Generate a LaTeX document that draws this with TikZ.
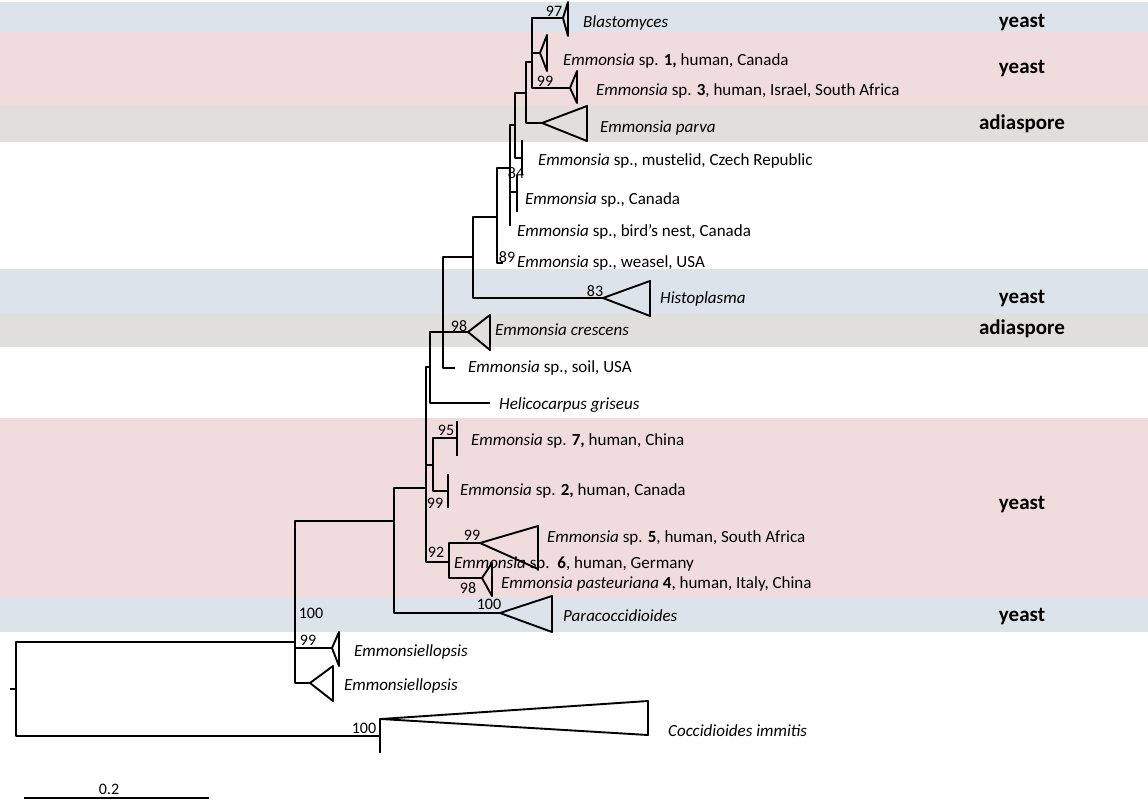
\documentclass[tikz,border=0pt]{standalone}
\usepackage{fontspec}
\setmainfont{Carlito}
\definecolor{bandblue}{RGB}{220,227,234}
\definecolor{bandpink}{RGB}{240,220,220}
\definecolor{bandgrey}{RGB}{224,223,219}
\newcommand\cladetri[4]{\draw[br] (#1) -- (#2,#3) -- (#2,#4) -- cycle;}
\newcommand\leafbar[3]{\draw[br] (#1,#2) -- (#1,#3);}
\begin{document}
\begin{tikzpicture}[x=1pt,y=-1pt,
  br/.style={line width=1.9pt, line join=round},
  lab/.style={anchor=base west, inner sep=0pt, font=\fontsize{17}{20}\selectfont},
  sup/.style={anchor=center, inner sep=0pt, font=\fontsize{16}{19}\selectfont},
  habit/.style={anchor=base, inner sep=0pt, font=\fontsize{21}{25}\selectfont\bfseries}]
\useasboundingbox (0,0) rectangle (1148,800);
% bands
\fill[bandblue] (0,2) rectangle (1148,32);
\fill[bandpink] (0,32) rectangle (1148,106);
\fill[bandgrey] (0,106) rectangle (1148,142);
\fill[bandblue] (0,269) rectangle (1148,314);
\fill[bandgrey] (0,314) rectangle (1148,347);
\fill[bandpink] (0,418) rectangle (1148,598);
\fill[bandblue] (0,598) rectangle (1148,632);
% internal nodes
\coordinate (stub) at (10,689);
\coordinate (R) at (16,689);
\coordinate (N295) at (295,642);
\coordinate (N380) at (380,736);
\coordinate (N394) at (394,521);
\coordinate (N425) at (426,488);
\coordinate (N430) at (430,367);
\coordinate (N443) at (443,332);
\coordinate (N473) at (473,257);
\coordinate (N497) at (497,217);
\coordinate (N510) at (510,168);
\coordinate (N515) at (515,125);
\coordinate (N526) at (526,93);
\coordinate (N532) at (532,62);
\coordinate (N433) at (433,465);
\coordinate (N449) at (449,562);
% leaves / clade apexes
\coordinate (Blast) at (563,18);
\coordinate (Sp1) at (540,53);
\coordinate (Sp3) at (570,88);
\coordinate (Parva) at (542,123);
\coordinate (MustBar) at (522,158);
\coordinate (CanBar) at (517,192);
\coordinate (Bird) at (510,226);
\coordinate (Weasel) at (503,263);
\coordinate (Histo) at (603,298);
\coordinate (Cres) at (468,332);
\coordinate (Soil) at (455,368);
\coordinate (Heli) at (490,403);
\coordinate (Sp7Bar) at (457,438);
\coordinate (Sp2Bar) at (448,491);
\coordinate (Sp5) at (480,543);
\coordinate (Past) at (482,578);
\coordinate (Para) at (500,613);
\coordinate (Ell1) at (332,648);
\coordinate (Ell2) at (310,683);
\coordinate (Cocc) at (381,719);
\coordinate (CoccZ) at (380,753);
% branches
\draw[br] (stub) -- (R);
\draw[br] (R) |- (N295);
\draw[br] (R) |- (N380);
\draw[br] (N295) |- (N394);
\draw[br] (N295) |- (Ell1);
\draw[br] (N295) |- (Ell2);
\draw[br] (N394) |- (N425);
\draw[br] (N394) |- (Para);
\draw[br] (N425) |- (N430);
\draw[br] (N425) |- (N433);
\draw[br] (N425) |- (N449);
\draw[br] (N430) |- (N443);
\draw[br] (N430) |- (Heli);
\draw[br] (N443) |- (N473);
\draw[br] (N443) |- (Cres);
\draw[br] (N443) |- (Soil);
\draw[br] (N473) |- (N497);
\draw[br] (N473) |- (Histo);
\draw[br] (N497) |- (N510);
\draw[br] (N497) |- (Weasel);
\draw[br] (N510) |- (N515);
\draw[br] (N510) |- (CanBar);
\draw[br] (N510) -- (Bird);
\draw[br] (N515) |- (N526);
\draw[br] (N515) |- (MustBar);
\draw[br] (N526) |- (N532);
\draw[br] (N526) |- (Parva);
\draw[br] (N532) |- (Blast);
\draw[br] (N532) |- (Sp1);
\draw[br] (N532) |- (Sp3);
\draw[br] (N433) |- (Sp7Bar);
\draw[br] (N433) |- (Sp2Bar);
\draw[br] (N449) |- (Sp5);
\draw[br] (N449) |- (Past);
\draw[br] (N380) |- (Cocc);
\draw[br] (N380) -- (CoccZ);
% collapsed clades
\cladetri{Blast}{568}{2}{36}
\cladetri{Sp1}{547}{35}{71}
\cladetri{Sp3}{577}{71}{103}
\cladetri{Parva}{587}{106}{141}
\cladetri{Histo}{650}{281}{316}
\cladetri{Cres}{490}{315}{350}
\cladetri{Sp5}{538}{526}{569}
\cladetri{Past}{492}{563}{596}
\cladetri{Para}{552}{596}{632}
\cladetri{Ell1}{339}{632}{666}
\cladetri{Ell2}{333}{666}{701}
\cladetri{Cocc}{648}{701}{735}
\leafbar{522}{140}{175}
\leafbar{517}{175}{212}
\leafbar{457}{421}{456}
\leafbar{448}{474}{508}
% taxon labels (base line positions)
\node[lab] (tBlast) at (583,27.5) {\textit{Blastomyces}};
\node[lab] (tSp1) at (563,65.5) {\textit{Emmonsia} sp. \textbf{1,} human, Canada};
\node[lab] (tSp3) at (596,95) {\textit{Emmonsia} sp. \textbf{3}, human, Israel, South Africa};
\node[lab] (tParva) at (600,132.5) {\textit{Emmonsia parva}};
\node[lab] (tMust) at (538,165.5) {\textit{Emmonsia} sp., mustelid, Czech Republic};
\node[lab] (tCan) at (525,204.5) {\textit{Emmonsia} sp., Canada};
\node[lab] (tBird) at (517,236.5) {\textit{Emmonsia} sp., bird’s nest, Canada};
\node[lab] (tWeasel) at (517,267.5) {\textit{Emmonsia} sp., weasel, USA};
\node[lab] (tHisto) at (660,303.5) {\textit{Histoplasma}};
\node[lab] (tCres) at (495,335.5) {\textit{Emmonsia crescens}};
\node[lab] (tSoil) at (468,372.5) {\textit{Emmonsia} sp., soil, USA};
\node[lab] (tHeli) at (499,409.5) {\textit{Helicocarpus griseus}};
\node[lab] (tSp7) at (471,445.5) {\textit{Emmonsia} sp. \textbf{7,} human, China};
\node[lab] (tSp2) at (460,495.5) {\textit{Emmonsia} sp. \textbf{2,} human, Canada};
\node[lab] (tSp5) at (547,542.5) {\textit{Emmonsia} sp. \textbf{5}, human, South Africa};
\node[lab] (tSp6) at (454,568.5) {\textit{Emmonsia} sp.\ \ \textbf{6}, human, Germany};
\node[lab] (tPast) at (501,588.5) {\textit{Emmonsia pasteuriana} \textbf{4}, human, Italy, China};
\node[lab] (tPara) at (563,621.5) {\textit{Paracoccidioides}};
\node[lab] (tEll1) at (354,656.5) {\textit{Emmonsiellopsis}};
\node[lab] (tEll2) at (344,690.5) {\textit{Emmonsiellopsis}};
\node[lab] (tCocc) at (668,736.5) {\textit{Coccidioides immitis}};
% support values
\node[sup] (s97) at (554,11) {97};
\node[sup] (s99a) at (545,81) {99};
\node[sup] (s84) at (516,173) {84};
\node[sup] (s89) at (507,257) {89};
\node[sup] (s83) at (595,291) {83};
\node[sup] (s98a) at (459,326) {98};
\node[sup] (s95) at (446,430) {95};
\node[sup] (s99b) at (435,503) {99};
\node[sup] (s99c) at (472,535) {99};
\node[sup] (s92) at (436,552) {92};
\node[sup] (s98b) at (468,588) {98};
\node[sup] (s100a) at (489,604) {100};
\node[sup] (s100b) at (311,613) {100};
\node[sup] (s99d) at (308,640) {99};
\node[sup] (s100c) at (364,728) {100};
% habit labels
\node[habit] (h1) at (1022,28) {yeast};
\node[habit] (h2) at (1022,74) {yeast};
\node[habit] (h3) at (1022,129.5) {adiaspore};
\node[habit] (h4) at (1022,303) {yeast};
\node[habit] (h5) at (1022,334.5) {adiaspore};
\node[habit] (h6) at (1022,509) {yeast};
\node[habit] (h7) at (1022,621) {yeast};
% scale bar
\coordinate (sbL) at (24,798);
\coordinate (sbR) at (209,798);
\draw[line width=1.5pt] (sbL) -- (sbR);
\node[sup] (sbt) at (109,789) {0.2};
\end{tikzpicture}
\end{document}
